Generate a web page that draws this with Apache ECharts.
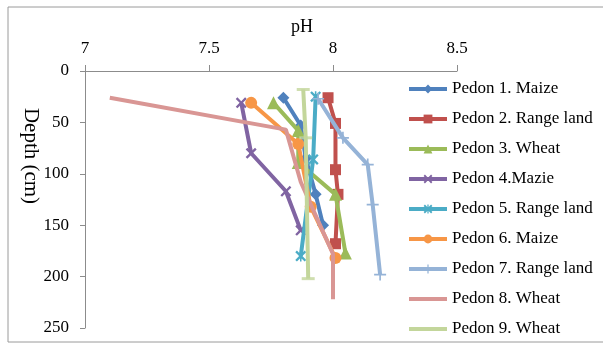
<!DOCTYPE html>
<html>
<head>
<meta charset="utf-8">
<script src="https://cdn.jsdelivr.net/npm/echarts@6/dist/echarts.min.js"></script>
<style>
  html, body { margin: 0; padding: 0; background: #fff; }
  #chart { width: 603px; height: 344px; }
</style>
</head>
<body>
<div id="chart"></div>
<script>
// pH profiles of nine pedons: each series is a list of [pH, depth (cm)] pairs
const seriesNames = [
  'Pedon 1. Maize', 'Pedon 2. Range land', 'Pedon 3. Wheat',
  'Pedon 4.Mazie', 'Pedon 5. Range land', 'Pedon 6. Maize',
  'Pedon 7. Range land', 'Pedon 8. Wheat', 'Pedon 9. Wheat'
];
const pedon1 = [[7.80, 26], [7.87, 53], [7.89, 85], [7.93, 120], [7.96, 150]];
const pedon2 = [[7.98, 26], [8.01, 51], [8.01, 96], [8.02, 120], [8.01, 168]];
const pedon3 = [[7.76, 31], [7.86, 58], [7.86, 89], [8.01, 120], [8.05, 177]];
const pedon4 = [[7.63, 31], [7.67, 80], [7.81, 117], [7.87, 155]];
const pedon5 = [[7.93, 25], [7.92, 86], [7.87, 180]];
const pedon6 = [[7.67, 31], [7.86, 71], [7.91, 132], [8.01, 182]];
const pedon7 = [[7.94, 27], [8.04, 65], [8.14, 91], [8.16, 130], [8.19, 198]];
const pedon8 = [[7.10, 26], [7.81, 57], [7.87, 108], [8.00, 178], [8.00, 222]];
const pedon9 = [[7.88, 18], [7.89, 65], [7.90, 202]];

const pHTicks = [7, 7.5, 8, 8.5];
const depthTicks = [0, 50, 100, 150, 200, 250];
const xTitle = 'pH';
const yTitle = 'Depth (cm)';

const colors = ['#4F81BD', '#C0504D', '#9BBB59', '#8064A2', '#4BACC6',
                '#F79646', '#95B3D7', '#D99694', '#C3D69B'];

const X_SYM = 'path://M0,1.5L1.5,0L5,3.5L8.5,0L10,1.5L6.5,5L10,8.5L8.5,10L5,6.5L1.5,10L0,8.5L3.5,5Z';
const STAR_SYM = X_SYM + 'M4.3,0L5.7,0L5.7,10L4.3,10Z';
const PLUS_SYM = 'path://M4.3,0L5.7,0L5.7,4.3L10,4.3L10,5.7L5.7,5.7L5.7,10L4.3,10L4.3,5.7L0,5.7L0,4.3L4.3,4.3Z';
// plain stroke used as the legend key of the marker-less series
const PLAIN_LINE_ICON = 'path://M0,0L38,0L38,4L0,4Z';

const symbols = ['diamond', 'rect', 'triangle', X_SYM, STAR_SYM, 'circle', PLUS_SYM, 'none', 'none'];
const symbolSizes = [12, 11, 13, 11, 11, 12, 12, 0, 0];
const allData = [pedon1, pedon2, pedon3, pedon4, pedon5, pedon6, pedon7, pedon8, pedon9];

const FONT = 'Liberation Serif';

const lineSeries = seriesNames.map((name, i) => ({
  name: name,
  type: 'line',
  data: allData[i],
  symbol: symbols[i],
  symbolSize: symbolSizes[i],
  showSymbol: symbols[i] !== 'none',
  lineStyle: { width: 4, color: colors[i] },
  itemStyle: { color: colors[i] },
  z: 2 + i
}));

// short horizontal caps at each Pedon 9 reading (kept out of the legend)
const pedon9Caps = {
  name: 'pedon9-caps',
  type: 'scatter',
  data: pedon9,
  symbol: 'rect',
  symbolSize: [13, 3],
  itemStyle: { color: colors[8] },
  z: 11
};

const legendData = seriesNames.map((name, i) =>
  symbols[i] === 'none' ? { name: name, icon: PLAIN_LINE_ICON } : name
);

const chart = echarts.init(document.getElementById('chart'), null, { renderer: 'canvas' });

chart.setOption({
  animation: false,
  color: colors,
  textStyle: { fontFamily: FONT, color: '#000' },
  grid: { left: 85, right: 146, top: 71, bottom: 16, containLabel: false },
  graphic: [
    {
      type: 'rect',
      shape: { x: 8, y: 7, width: 620, height: 335 },
      style: { fill: 'none', stroke: '#9a9a9a', lineWidth: 1 },
      z: -10
    },
    {
      type: 'text',
      x: 302, y: 27,
      style: {
        text: xTitle,
        fontSize: 18,
        fontFamily: FONT,
        fill: '#000',
        align: 'center',
        verticalAlign: 'middle'
      }
    },
    {
      type: 'text',
      x: 31, y: 156,
      rotation: -Math.PI / 2,
      style: {
        text: yTitle,
        fontSize: 21,
        fontFamily: FONT,
        fill: '#000',
        align: 'center',
        verticalAlign: 'middle'
      }
    }
  ],
  xAxis: {
    type: 'value',
    position: 'top',
    min: pHTicks[0],
    max: pHTicks[pHTicks.length - 1],
    interval: 0.5,
    axisLine: { show: true, lineStyle: { color: '#8c8c8c', width: 1 } },
    axisTick: { show: true, inside: false, length: 6, lineStyle: { color: '#8c8c8c' } },
    axisLabel: {
      margin: 14, fontFamily: FONT, fontSize: 17, color: '#000',
      formatter: v => String(v)
    },
    splitLine: { show: false }
  },
  yAxis: {
    type: 'value',
    inverse: true,
    min: depthTicks[0],
    max: depthTicks[depthTicks.length - 1],
    interval: 50,
    axisLine: { show: true, lineStyle: { color: '#8c8c8c', width: 1 } },
    axisTick: { show: true, inside: false, length: 5, lineStyle: { color: '#8c8c8c' } },
    axisLabel: { margin: 16, fontFamily: FONT, fontSize: 17, color: '#000' },
    splitLine: { show: false }
  },
  legend: {
    orient: 'vertical',
    left: 407,
    top: 80,
    height: 264,
    padding: 0,
    itemWidth: 38,
    itemHeight: 11,
    itemGap: 12,
    symbolKeepAspect: true,
    lineStyle: { width: 4 },
    textStyle: { fontFamily: FONT, fontSize: 17, color: '#000', lineHeight: 18 },
    data: legendData
  },
  series: lineSeries.concat([pedon9Caps])
});
</script>
</body>
</html>
